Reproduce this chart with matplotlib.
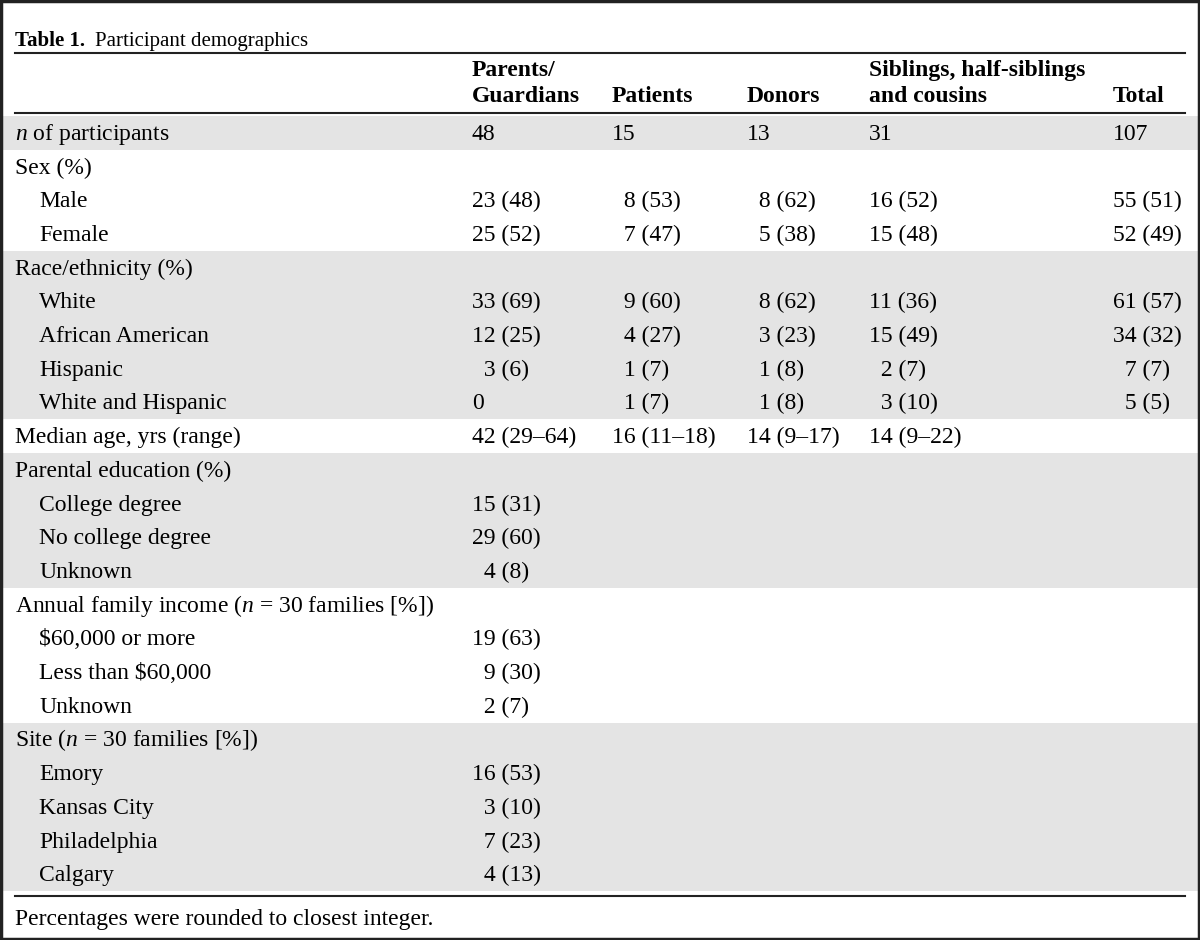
import matplotlib.pyplot as plt
from matplotlib.patches import Rectangle

plt.rcParams['font.family'] = ['Liberation Serif', 'DejaVu Serif']
plt.rcParams['mathtext.fontset'] = 'custom'
plt.rcParams['mathtext.rm'] = 'Liberation Serif'
plt.rcParams['mathtext.it'] = 'Liberation Serif:italic'

FS = '\u2007'  # figure space, keeps single digits aligned

title_bold = 'Table 1.'
title_text = 'Participant demographics'
footnote = 'Percentages were rounded to closest integer.'

headers = [['Parents/', 'Guardians'], ['', 'Patients'], ['', 'Donors'],
           ['Siblings, half-siblings', 'and cousins'], ['', 'Total']]

row_labels = [
    r'$n$ of participants', 'Sex (%)', 'Male', 'Female',
    'Race/ethnicity (%)', 'White', 'African American', 'Hispanic', 'White and Hispanic',
    'Median age, yrs (range)',
    'Parental education (%)', 'College degree', 'No college degree', 'Unknown',
    r'Annual family income ($n$ = 30 families [%])', '$60,000 or more', 'Less than $60,000', 'Unknown',
    r'Site ($n$ = 30 families [%])', 'Emory', 'Kansas City', 'Philadelphia', 'Calgary',
]
indented = [0, 0, 1, 1, 0, 1, 1, 1, 1, 0, 0, 1, 1, 1, 0, 1, 1, 1, 0, 1, 1, 1, 1]

parents = ['48', '', '23 (48)', '25 (52)', '', '33 (69)', '12 (25)', FS + '3 (6)', '0',
           '42 (29–64)', '', '15 (31)', '29 (60)', FS + '4 (8)', '',
           '19 (63)', FS + '9 (30)', FS + '2 (7)', '', '16 (53)', FS + '3 (10)', FS + '7 (23)', FS + '4 (13)']
patients = ['15', '', FS + '8 (53)', FS + '7 (47)', '', FS + '9 (60)', FS + '4 (27)', FS + '1 (7)', FS + '1 (7)',
            '16 (11–18)'] + [''] * 13
donors = ['13', '', FS + '8 (62)', FS + '5 (38)', '', FS + '8 (62)', FS + '3 (23)', FS + '1 (8)', FS + '1 (8)',
          '14 (9–17)'] + [''] * 13
siblings = ['31', '', '16 (52)', '15 (48)', '', '11 (36)', '15 (49)', FS + '2 (7)', FS + '3 (10)',
            '14 (9–22)'] + [''] * 13
total = ['107', '', '55 (51)', '52 (49)', '', '61 (57)', '34 (32)', FS + '7 (7)', FS + '5 (5)',
         ''] + [''] * 13

# shaded row blocks: (first row, number of rows)
shaded_blocks = [(0, 1), (4, 5), (10, 4), (18, 5)]

fig = plt.figure(figsize=(12, 9.4), dpi=100)
ax = fig.add_axes([0, 0, 1, 1])
ax.set_xlim(0, 1200)
ax.set_ylim(940, 0)
ax.axis('off')

fsize = 17
row_top = 116
row_h = 33.7
col_x = [472, 612, 747, 869, 1113]
columns = [parents, patients, donors, siblings, total]

for start, n in shaded_blocks:
    ax.add_patch(Rectangle((2, row_top + start * row_h), 1196, n * row_h,
                           color='#e4e4e4', lw=0, zorder=0))

# title
ax.text(15, 46, title_bold, fontsize=15, fontweight='bold', va='baseline')
ax.text(95, 46, title_text, fontsize=15, va='baseline')

# rules
for y in [53, 113, 896]:
    ax.plot([15, 1185], [y, y], color='#222222', lw=1.5, zorder=2)

# headers
for x, (top, bottom) in zip(col_x, headers):
    ax.text(x, 76, top, fontsize=fsize, fontweight='bold', va='baseline')
    ax.text(x, 102, bottom, fontsize=fsize, fontweight='bold', va='baseline')

# body
for i, label in enumerate(row_labels):
    y = row_top + (i + 0.5) * row_h + 7
    ax.text(39 if indented[i] else 15, y, label, fontsize=fsize, va='baseline')
    for x, col in zip(col_x, columns):
        if col[i]:
            ax.text(x, y, col[i], fontsize=fsize, va='baseline')

ax.text(15, 925, footnote, fontsize=fsize, va='baseline')

# outer frame
ax.add_patch(Rectangle((1, 1), 1198, 938, fill=False, edgecolor='#222222', lw=2.5, zorder=3))

fig.savefig('out.png', dpi=100)
